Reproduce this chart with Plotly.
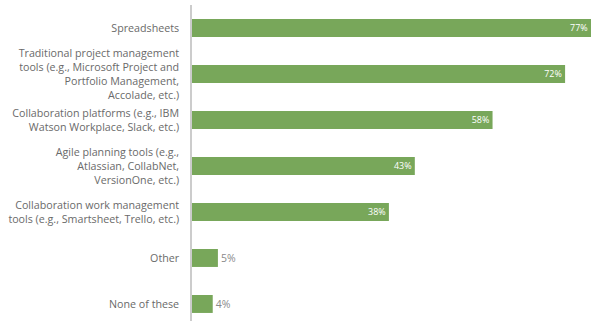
import plotly.graph_objects as go

categories = [
    "Spreadsheets",
    "Traditional project management<br>tools (e.g., Microsoft Project and<br>Portfolio Management,<br>Accolade, etc.)",
    "Collaboration platforms (e.g., IBM<br>Watson Workplace, Slack, etc.)",
    "Agile planning tools (e.g.,<br>Atlassian, CollabNet,<br>VersionOne, etc.)",
    "Collaboration work management<br>tools (e.g., Smartsheet, Trello, etc.)",
    "Other",
    "None of these",
]
values = [77, 72, 58, 43, 38, 5, 4]
labels = [f"{v}%" for v in values]
positions = ["inside", "inside", "inside", "inside", "inside", "outside", "outside"]
text_colors = ["white"] * 5 + ["#8a8a8a"] * 2

fig = go.Figure(go.Bar(
    x=values,
    y=categories,
    orientation="h",
    marker=dict(color="#78a75a", line=dict(width=0)),
    text=labels,
    textposition=positions,
    insidetextanchor="end",
    textfont=dict(family="Open Sans", size=10.5, color=text_colors),
    cliponaxis=False,
    width=0.39,
))

fig.update_layout(
    width=591, height=321,
    margin=dict(l=192, r=0, t=5, b=0),
    paper_bgcolor="white", plot_bgcolor="white",
    showlegend=False,
    font=dict(family="Open Sans", size=10.7, color="#6a6a6a"),
    uniformtext=dict(mode=False),
)
fig.update_xaxes(range=[0, 77], visible=False, showgrid=False, zeroline=False)
fig.update_yaxes(
    type="category",
    range=[6.37, -0.5],
    showgrid=False, zeroline=False,
    showline=True, linecolor="#cccccc", linewidth=1.5,
    ticks="", ticklabelstandoff=9,
)

fig.write_html("out.html")
